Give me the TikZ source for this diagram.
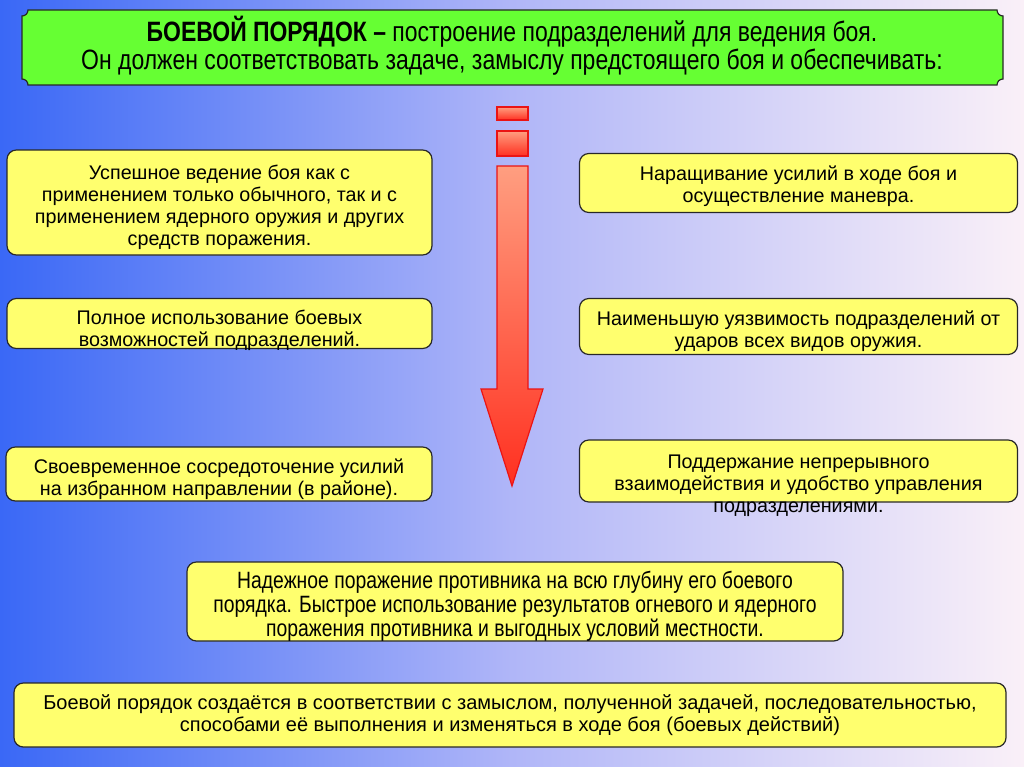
\documentclass[tikz,border=0pt]{standalone}
\usepackage{fontspec}
\setmainfont{Liberation Sans}
\newfontfamily\narrowfont{Liberation Sans}[FakeStretch=0.82]
\usetikzlibrary{positioning}
\definecolor{bgleft}{RGB}{58,104,246}
\definecolor{bgmid}{RGB}{176,182,248}
\definecolor{bgright}{RGB}{250,240,248}
\definecolor{titlegreen}{RGB}{102,255,51}
\definecolor{goalyellow}{RGB}{255,255,110}
\definecolor{edgegray}{RGB}{40,40,40}
\definecolor{arrowlight}{RGB}{255,158,128}
\definecolor{arrowdark}{RGB}{255,48,32}
\definecolor{arrowedge}{RGB}{235,20,20}

\tikzset{
  goalbox/.style={draw=edgegray, fill=goalyellow, line width=0.9pt, rounded corners=7pt, inner sep=0pt},
  goaltext/.style={align=center, font=\fontsize{14.8}{16.5}\selectfont},
  narrowtext/.style={align=center, font=\narrowfont\fontsize{17.7}{18}\selectfont},
  arrowpart/.style={draw=arrowedge, line width=0.9pt, top color=arrowlight, bottom color=arrowdark}
}

\begin{document}
\begin{tikzpicture}[x=0.75pt,y=-0.75pt]
    % Background
    \useasboundingbox (0,0) rectangle (1024,767);
    \shade[left color=bgleft, right color=bgright, middle color=bgmid] (0,0) rectangle (1024,767);

    % Title plaque
    \draw[fill=titlegreen, draw=edgegray, line width=0.9pt]
        (28,10) -- (997,10) arc(180:90:6) -- (1003,79) arc(270:180:6)
        -- (28,85) arc(0:-90:6) -- (22,16) arc(90:0:6) -- cycle;
    \node[align=center, font=\narrowfont\fontsize{21}{19.5}\selectfont] (title) at (512,46)
        {\textbf{БОЕВОЙ ПОРЯДОК –} построение подразделений для ведения боя.\\
         Он должен соответствовать задаче, замыслу предстоящего боя и обеспечивать:};

    % Arrow
    \shade[arrowpart] (497,107) rectangle (528,120);
    \shade[arrowpart] (497,131) rectangle (528,156);
    \shade[arrowpart] (497,166) -- (528,166) -- (528,389) -- (543,389) -- (512,486)
        -- (481,389) -- (497,389) -- cycle;

    % Left column
    \node[goalbox, minimum width=318.75pt, minimum height=78.75pt] (g1) at (219.5,202.5) {};
    \node[goaltext] (t1) at (219.5,207) {Успешное ведение боя как с\\применением только обычного, так и с\\применением ядерного оружия и других\\средств поражения.};

    \node[goalbox, minimum width=318.75pt, minimum height=37.5pt] (g2) at (219.5,323.5) {};
    \node[goaltext] (t2) at (219.5,330.5) {Полное использование боевых\\возможностей подразделений.};

    \node[goalbox, minimum width=319.5pt, minimum height=40.5pt] (g3) at (219,474) {};
    \node[goaltext] (t3) at (219,479) {Своевременное сосредоточение усилий\\на избранном направлении (в районе).};

    % Right column
    \node[goalbox, minimum width=328.5pt, minimum height=44.25pt] (g4) at (798.5,183) {};
    \node[goaltext] (t4) at (798.5,186) {Наращивание усилий в ходе боя и\\осуществление маневра.};

    \node[goalbox, minimum width=328.5pt, minimum height=42pt] (g5) at (798.5,326.5) {};
    \node[goaltext] (t5) at (798.5,331) {Наименьшую уязвимость подразделений от\\ударов всех видов оружия.};

    \node[goalbox, minimum width=328.5pt, minimum height=46.5pt] (g6) at (798.5,471) {};
    \node[goaltext] (t6) at (798.5,486) {Поддержание непрерывного\\взаимодействия и удобство управления\\подразделениями.};

    % Bottom
    \node[goalbox, minimum width=492pt, minimum height=59.25pt] (g7) at (515,601.5) {};
    \node[narrowtext] (t7) at (515,606.5) {Надежное поражение противника на всю глубину его боевого\\порядка. Быстрое использование результатов огневого и ядерного\\поражения противника и выгодных условий местности.};

    \node[goalbox, minimum width=744pt, minimum height=48pt] (g8) at (510,715) {};
    \node[goaltext, font=\fontsize{15}{16.5}\selectfont] (t8) at (g8.center) {Боевой порядок создаётся в соответствии с замыслом, полученной задачей, последовательностью,\\способами её выполнения и изменяться в ходе боя (боевых действий)};
\end{tikzpicture}
\end{document}
